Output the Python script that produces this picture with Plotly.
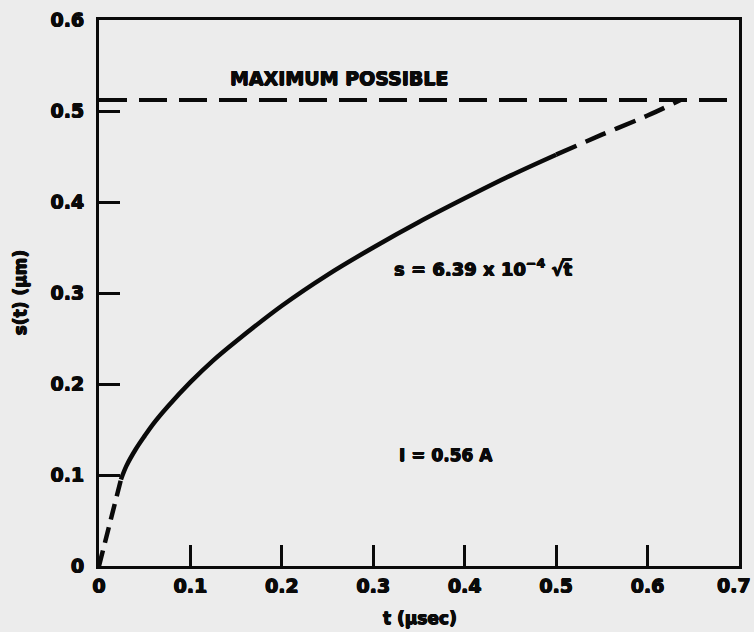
import plotly.graph_objects as go

# Channel half-width s(t) versus time, I = 0.56 A
t_early = [0.0, 0.010, 0.024]
s_early = [0.0, 0.038, 0.095]

t_solid = [0.024, 0.03, 0.04, 0.05, 0.06, 0.075, 0.10, 0.125, 0.15, 0.20,
           0.25, 0.30, 0.35, 0.40, 0.45, 0.50]
s_solid = [0.095, 0.110, 0.128, 0.143, 0.157, 0.175, 0.202, 0.226, 0.247, 0.286,
           0.320, 0.350, 0.378, 0.404, 0.429, 0.452]

t_late = [0.50, 0.55, 0.60, 0.636]
s_late = [0.452, 0.474, 0.495, 0.512]

s_max = 0.512
t_range = [0.0, 0.7]

x_ticks = [0, 0.1, 0.2, 0.3, 0.4, 0.5, 0.6, 0.7]
x_labels = ["0", "0.1", "0.2", "0.3", "0.4", "0.5", "0.6", "0.7"]
y_ticks = [0, 0.1, 0.2, 0.3, 0.4, 0.5, 0.6]
y_labels = ["0", "0.1", "0.2", "0.3", "0.4", "0.5", "0.6"]

FONT = "DejaVu Sans"
INK = "#0a0a0a"
BG = "#ececec"
# slight outline to give the heavy lettering
HEAVY = ", ".join(f"{dx}px {dy}px 0 {INK}" for dx, dy in
                  [(0.6, 0), (-0.6, 0), (0, 0.5), (0, -0.5)])

fig = go.Figure()

# maximum possible width
fig.add_trace(go.Scatter(x=t_range, y=[s_max, s_max], mode="lines",
                         line=dict(color=INK, width=4, dash="28px,12px")))
# early-time extrapolation
fig.add_trace(go.Scatter(x=t_early, y=s_early, mode="lines",
                         line=dict(color=INK, width=4.5, dash="16px,8px")))
# fitted square-root growth
fig.add_trace(go.Scatter(x=t_solid, y=s_solid, mode="lines",
                         line=dict(color=INK, width=4.5, shape="spline")))
# extrapolation up to the maximum
fig.add_trace(go.Scatter(x=t_late, y=s_late, mode="lines",
                         line=dict(color=INK, width=4.5, dash="22px,10px", shape="spline")))

txt = dict(family=FONT, color=INK, weight="bold", shadow=HEAVY)

fig.add_annotation(x=0.262, y=0.536, xref="x", yref="y", text="MAXIMUM POSSIBLE",
                   showarrow=False, xanchor="center", yanchor="middle",
                   font=dict(size=19, **txt))
fig.add_annotation(x=0.421, y=0.327, xref="x", yref="y",
                   text="s = 6.39 x 10<sup>\u22124</sup> \u221at\u0305",
                   showarrow=False, xanchor="center", yanchor="middle",
                   font=dict(size=18, **txt))
fig.add_annotation(x=0.380, y=0.122, xref="x", yref="y", text="I = 0.56 A",
                   showarrow=False, xanchor="center", yanchor="middle",
                   font=dict(size=17, **txt))

# last x tick label sits at the page edge, so it is placed right-aligned
fig.add_annotation(x=1.0, y=-0.035, xref="paper", yref="paper", text=x_labels[-1],
                   xshift=14, showarrow=False, xanchor="right", yanchor="middle",
                   font=dict(size=19, **txt))

# axis titles
fig.add_annotation(x=0.5016, y=-0.095, xref="paper", yref="paper", text="t (\u00b5sec)",
                   showarrow=False, xanchor="center", yanchor="middle",
                   font=dict(size=17, **txt))
fig.add_annotation(x=-0.123, y=0.5, xref="paper", yref="paper", text="s(t) (\u00b5m)",
                   textangle=-90, showarrow=False, xanchor="center", yanchor="middle",
                   font=dict(size=17, **txt))

axis_common = dict(showgrid=False, zeroline=False, showline=True, linecolor=INK,
                   linewidth=3, mirror=True, ticks="inside", tickcolor=INK,
                   tickwidth=3, ticklen=21, automargin=False,
                   tickfont=dict(family=FONT, size=19, color=INK, weight="bold",
                                 shadow=HEAVY))

fig.update_xaxes(range=[t_range[0], t_range[1] + 1e-6], tickvals=x_ticks,
                 ticktext=x_labels[:-1] + [""], ticklabelstandoff=1, **axis_common)
fig.update_yaxes(range=[0, 0.6 + 1e-6], tickvals=y_ticks, ticktext=y_labels,
                 ticklabelstandoff=8, **axis_common)

fig.update_layout(width=754, height=632, showlegend=False,
                  paper_bgcolor=BG, plot_bgcolor=BG,
                  margin=dict(l=99, r=15, t=20, b=66))

fig.write_html("out.html")
